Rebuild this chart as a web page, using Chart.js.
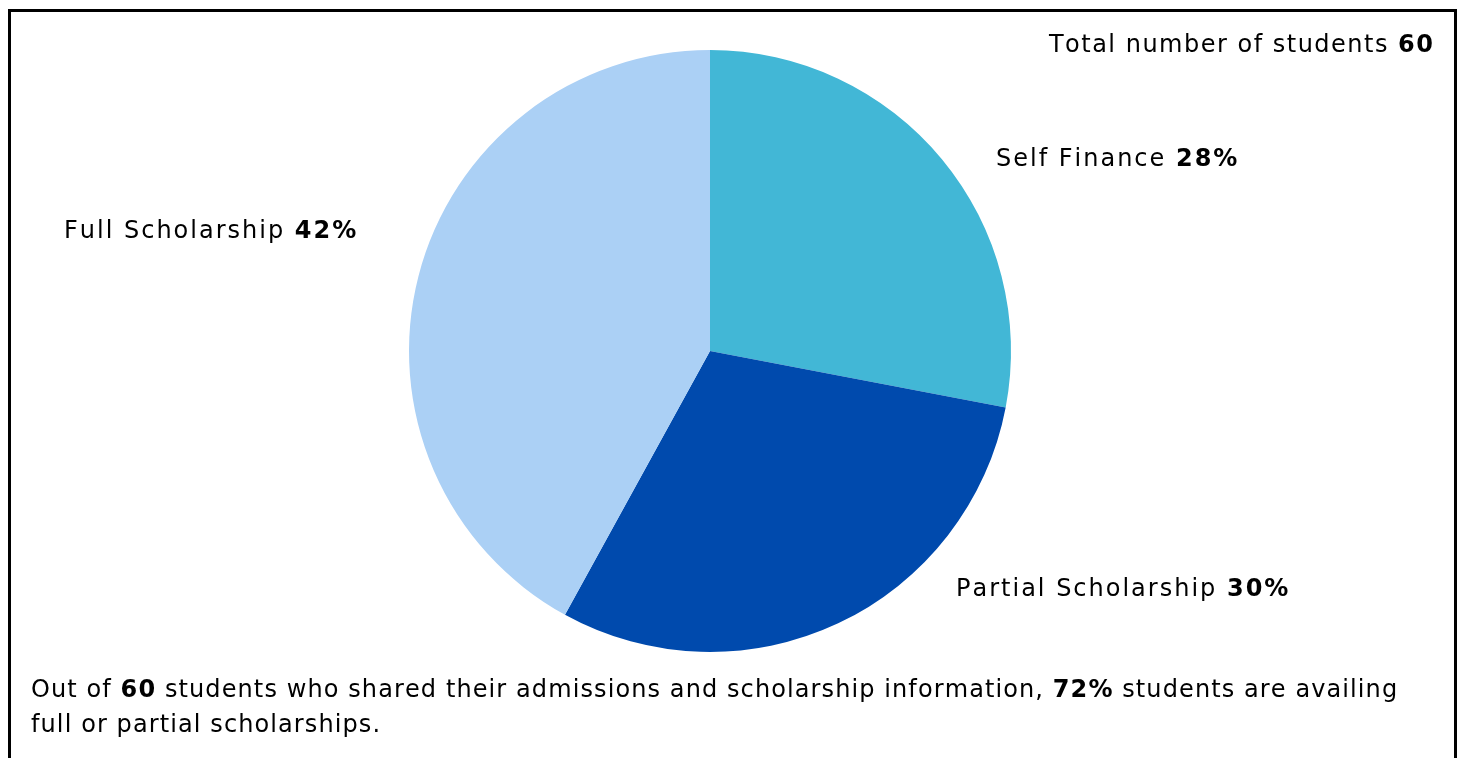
<!DOCTYPE html>
<html>
<head>
<meta charset="utf-8">
<script src="https://cdn.jsdelivr.net/npm/chart.js@4.4.1/dist/chart.umd.min.js"></script>
<style>
  html, body { margin: 0; padding: 0; background: #fff; width: 1460px; height: 758px; overflow: hidden; }
  #frame { position: absolute; left: 8px; top: 9px; width: 1443px; height: 800px; border: 3px solid #000; box-sizing: content-box; }
  #wrap { position: absolute; left: 0; top: 0; width: 1460px; height: 758px; }
</style>
</head>
<body>
<div id="frame"></div>
<div id="wrap"><canvas id="c" width="1460" height="758"></canvas></div>
<script>
const categories = ["Self Finance", "Partial Scholarship", "Full Scholarship"];
const percentages = [28, 30, 42];
const colors = ["#42B7D6", "#004AAD", "#ABD0F5"];
const totalStudents = 60;
const scholarshipShare = 72;

const FONT = "'DejaVu Sans', sans-serif";
const FS = 24;

// label anchors (left x, baseline y) per slice
const labelPos = [
  { x: 996, y: 166 },
  { x: 956, y: 596 },
  { x: 64, y: 238 }
];

function partWidth(ctx, p, sp) {
  ctx.font = (p.b ? "bold " : "") + FS + "px " + FONT;
  let w = 0;
  for (const ch of p.t) w += ctx.measureText(ch).width + sp;
  return w;
}

function drawRich(ctx, parts, x, y, align, sp) {
  const total = parts.reduce((a, p) => a + partWidth(ctx, p, sp), 0);
  let cx = align === "right" ? x - total + sp : x;
  ctx.fillStyle = "#000";
  ctx.textBaseline = "alphabetic";
  ctx.textAlign = "left";
  parts.forEach(p => {
    ctx.font = (p.b ? "bold " : "") + FS + "px " + FONT;
    for (const ch of p.t) {
      ctx.fillText(ch, cx, y);
      cx += ctx.measureText(ch).width + sp;
    }
  });
}

const textPlugin = {
  id: "texts",
  afterDraw(chart) {
    const ctx = chart.ctx;
    ctx.save();
    categories.forEach((c, i) => {
      drawRich(ctx, [{ t: c + " " }, { t: percentages[i] + "%", b: true }], labelPos[i].x, labelPos[i].y, "left", 2);
    });
    drawRich(ctx, [{ t: "Total number of students " }, { t: String(totalStudents), b: true }], 1433, 52, "right", 1.5);
    drawRich(ctx, [
      { t: "Out of " }, { t: String(totalStudents), b: true },
      { t: " students who shared their admissions and scholarship information, " },
      { t: scholarshipShare + "%", b: true }, { t: " students are availing" }
    ], 31, 697, "left", 1.1);
    drawRich(ctx, [{ t: "full or partial scholarships." }], 31, 732, "left", 1.1);
    ctx.restore();
  }
};

new Chart(document.getElementById("c"), {
  type: "pie",
  data: {
    labels: categories,
    datasets: [{ data: percentages, backgroundColor: colors, borderWidth: 0 }]
  },
  options: {
    responsive: false,
    animation: false,
    layout: { padding: { left: 409, right: 449, top: 50, bottom: 106 } },
    plugins: { legend: { display: false }, tooltip: { enabled: false } }
  },
  plugins: [textPlugin]
});
</script>
</body>
</html>
